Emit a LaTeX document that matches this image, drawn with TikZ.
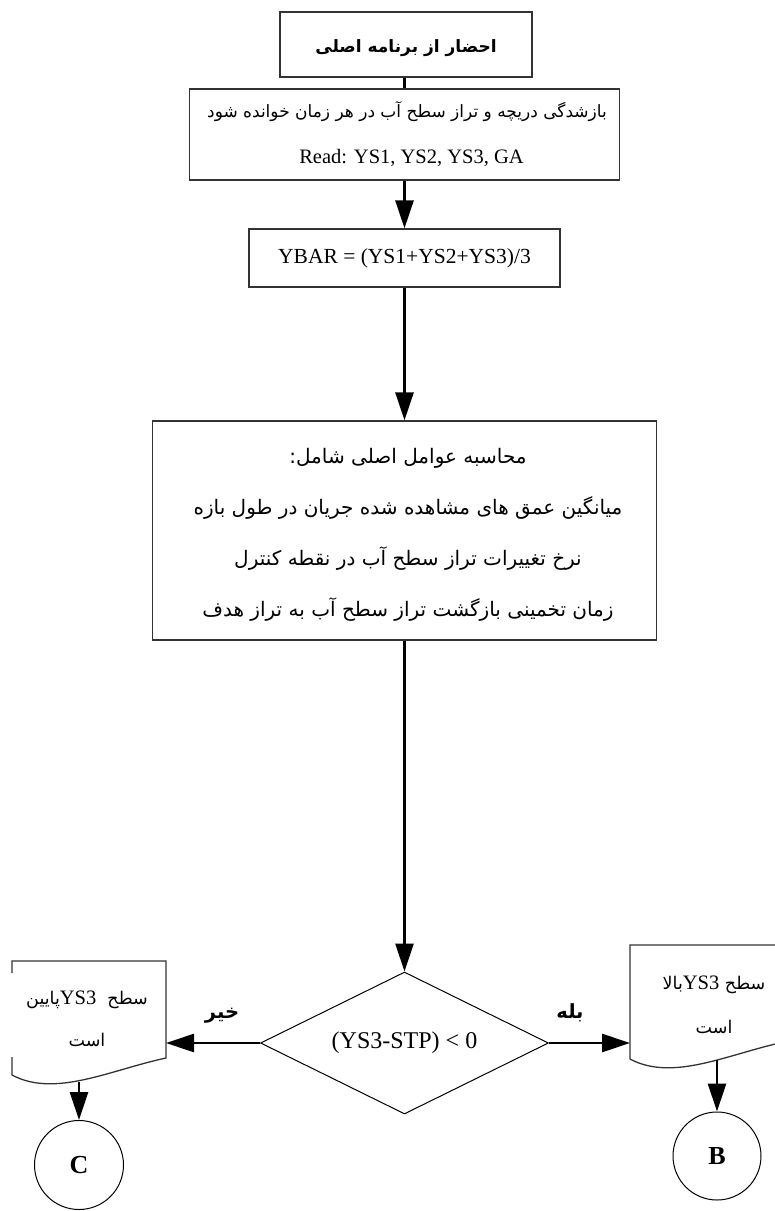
\documentclass[tikz,border=0pt]{standalone}
\usepackage{fontspec}
\setmainfont{Liberation Serif}
\newfontfamily\fa[Script=Arabic]{DejaVu Sans}
\TeXXeTstate=1
\usetikzlibrary{arrows.meta,shapes.geometric}
\begin{document}
\begin{tikzpicture}[x=1pt,y=-1pt,
  box/.style={draw=black!80,line width=1.3pt,rectangle,inner sep=0pt,align=center},
  arr/.style={line width=2.8pt,-{Triangle[length=28pt,width=18pt]}},
  conn/.style={line width=2.8pt},
  docline/.style={draw=black!80,line width=1.3pt},
  thinshape/.style={draw=black,line width=1pt,inner sep=0pt},
  fatext/.style={align=center,inner sep=0pt},
  lbl/.style={font=\fa\bfseries\fontsize{19.5}{23}\selectfont,inner sep=0pt}]
\useasboundingbox (0,0) rectangle (775,1211);
\begin{scope}
\clip (0,0) rectangle (775,1211);

% boxes
\node[box,minimum width=252pt,minimum height=65pt] (b1) at (406,44.5) {};
\node[fatext,font=\fa\bfseries\fontsize{17}{22}\selectfont] (b1t) at (406,48) {\beginR احضار از برنامه اصلی\endR};

\node[box,minimum width=430pt,minimum height=91pt] (b2) at (404.5,134.5) {};
\node[fatext,font=\fontsize{17}{46}\selectfont] (b2t) at (407,134.5)
  {{\fa\beginR بازشدگی دریچه و تراز سطح آب در هر زمان خوانده شود\endR}\\{\fontsize{20.5}{46}\selectfont\hspace*{9pt}Read: YS1, YS2, YS3, GA}};

\node[box,minimum width=311pt,minimum height=58pt,font=\fontsize{21.5}{24}\selectfont] (b3) at (404.5,258) {YBAR = (YS1+YS2+YS3)/3};

\node[box,minimum width=504pt,minimum height=219pt] (b4) at (404.5,530.5) {};
\node[fatext,font=\fa\fontsize{20}{51}\selectfont] (b4t) at (408,535)
  {\beginR محاسبه عوامل اصلی شامل:\endR\\
   \beginR میانگین عمق های مشاهده شده جریان در طول بازه\endR\\
   \beginR نرخ تغییرات تراز سطح آب در نقطه کنترل\endR\\
   \beginR زمان تخمینی بازگشت تراز سطح آب به تراز هدف\endR};

\node[thinshape,diamond,aspect=2,minimum width=288pt,minimum height=142pt,font=\fontsize{24}{28}\selectfont] (d) at (404.5,1043) {(YS3-STP) < 0};

% left document shape
\draw[docline] (12,973) -- (12,961) -- (166,961) -- (166,1058)
  .. controls (110,1070) and (55,1098) .. (12,1075) -- (12,1057);
\node[fatext,font=\fa\fontsize{17.5}{42}\selectfont] (ld) at (87,1019)
  {\beginR سطح\ \ \beginL{\rmfamily\fontsize{20.5}{42}\selectfont YS3}\endL{}پایین\endR\\\beginR است\endR};
\coordinate (ldE) at (166,1043);
\coordinate (ldB) at (79,1082);

% right document shape
\draw[docline] (630,1059) -- (630,945) -- (784,945) -- (784,1042)
  .. controls (728,1054) and (673,1082) .. (630,1059);
\node[fatext,font=\fa\fontsize{17.5}{44}\selectfont] (rd) at (714,1005)
  {\beginR سطح\ \beginL{\rmfamily\fontsize{20.5}{44}\selectfont YS3}\endL{}بالا\endR\\\beginR است\endR};
\coordinate (rdW) at (630,1043);
\coordinate (rdB) at (717,1060);

% connectors
\node[thinshape,circle,minimum size=89pt,font=\bfseries\fontsize{26}{30}\selectfont] (C) at (79,1165) {C};
\node[thinshape,circle,minimum size=88pt,font=\bfseries\fontsize{26}{30}\selectfont] (B) at (717,1156) {B};

% arrows
\draw[conn] (b2.north |- b1.south) -- (b2.north);
\draw[arr] (b2.south) -- (b3.north);
\draw[arr] (b3.south) -- (b4.north);
\draw[arr] (b4.south) -- (d.north);
\draw[arr] (d.west) -- (ldE);
\draw[arr] (d.east) -- (rdW);
\draw[arr] (ldB) -- (C.north);
\draw[arr] (rdB) -- (B.north);

% labels
\node[lbl] (no) at (222,1016) {\beginR خیر\endR};
\node[lbl] (yes) at (570,1013) {\beginR بله\endR};
\end{scope}
\end{tikzpicture}
\end{document}
